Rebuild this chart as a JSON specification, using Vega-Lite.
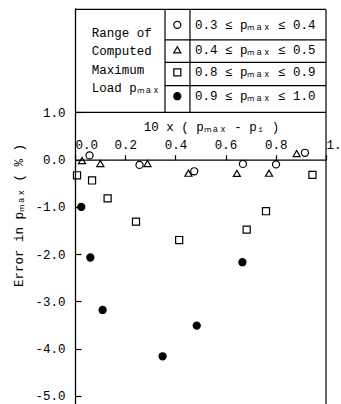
{
  "$schema": "https://vega.github.io/schema/vega-lite/v6.json",
  "width": 251,
  "height": 396,
  "autosize": {"type": "none"},
  "padding": {"left": 75, "top": 8, "right": 15, "bottom": 0},
  "background": "white",
  "config": {
    "font": "Liberation Mono",
    "view": {"stroke": null},
    "axis": {"grid": false, "domainColor": "black", "tickColor": "black", "labelColor": "black", "titleColor": "black", "titleFontWeight": "normal", "domainWidth": 1.3, "tickWidth": 1.2}
  },
  "datasets": {
    "pts": [
      {"x": 0.058, "y": 0.09, "g": "0.3-0.4"},
      {"x": 0.257, "y": -0.11, "g": "0.3-0.4"},
      {"x": 0.475, "y": -0.245, "g": "0.3-0.4"},
      {"x": 0.669, "y": -0.09, "g": "0.3-0.4"},
      {"x": 0.801, "y": -0.1, "g": "0.3-0.4"},
      {"x": 0.916, "y": 0.146, "g": "0.3-0.4"},
      {"x": 0.028, "y": -0.02, "g": "0.4-0.5"},
      {"x": 0.101, "y": -0.08, "g": "0.4-0.5"},
      {"x": 0.289, "y": -0.08, "g": "0.4-0.5"},
      {"x": 0.452, "y": -0.286, "g": "0.4-0.5"},
      {"x": 0.645, "y": -0.29, "g": "0.4-0.5"},
      {"x": 0.773, "y": -0.286, "g": "0.4-0.5"},
      {"x": 0.883, "y": 0.13, "g": "0.4-0.5"},
      {"x": 0.008, "y": -0.33, "g": "0.8-0.9"},
      {"x": 0.068, "y": -0.44, "g": "0.8-0.9"},
      {"x": 0.13, "y": -0.82, "g": "0.8-0.9"},
      {"x": 0.243, "y": -1.31, "g": "0.8-0.9"},
      {"x": 0.415, "y": -1.7, "g": "0.8-0.9"},
      {"x": 0.684, "y": -1.48, "g": "0.8-0.9"},
      {"x": 0.761, "y": -1.09, "g": "0.8-0.9"},
      {"x": 0.946, "y": -0.32, "g": "0.8-0.9"},
      {"x": 0.025, "y": -1.0, "g": "0.9-1.0"},
      {"x": 0.061, "y": -2.07, "g": "0.9-1.0"},
      {"x": 0.11, "y": -3.18, "g": "0.9-1.0"},
      {"x": 0.349, "y": -4.16, "g": "0.9-1.0"},
      {"x": 0.485, "y": -3.51, "g": "0.9-1.0"},
      {"x": 0.667, "y": -2.17, "g": "0.9-1.0"}
    ],
    "legendSymbols": [
      {"x": 0.4076, "y": 2.853, "g": "0.3-0.4"},
      {"x": 0.4076, "y": 2.326, "g": "0.4-0.5"},
      {"x": 0.4076, "y": 1.848, "g": "0.8-0.9"},
      {"x": 0.4076, "y": 1.343, "g": "0.9-1.0"}
    ],
    "legendText": [
      {"x": 0.0665, "y": 2.684, "label": "Range of"},
      {"x": 0.0665, "y": 2.29, "label": "Computed"},
      {"x": 0.0665, "y": 1.89, "label": "Maximum"},
      {"x": 0.0665, "y": 1.52, "label": "Load pₘₐₓ"},
      {"x": 0.478, "y": 2.853, "label": "0.3 ≤ pₘₐₓ ≤ 0.4"},
      {"x": 0.478, "y": 2.326, "label": "0.4 ≤ pₘₐₓ ≤ 0.5"},
      {"x": 0.478, "y": 1.848, "label": "0.8 ≤ pₘₐₓ ≤ 0.9"},
      {"x": 0.478, "y": 1.343, "label": "0.9 ≤ pₘₐₓ ≤ 1.0"}
    ],
    "rules": [
      {"x": 0, "x2": 1, "y": 3.18, "y2": 3.18},
      {"x": 0, "x2": 1, "y": 1.0, "y2": 1.0},
      {"x": 0.3586, "x2": 1, "y": 2.537, "y2": 2.537},
      {"x": 0.3586, "x2": 1, "y": 2.059, "y2": 2.059},
      {"x": 0.3586, "x2": 1, "y": 1.568, "y2": 1.568},
      {"x": 0.3586, "x2": 0.3586, "y": 1.0, "y2": 3.18},
      {"x": 0.458, "x2": 0.458, "y": 1.0, "y2": 3.18},
      {"x": 1, "x2": 1, "y": -5.17, "y2": 3.18}
    ]
  },
  "layer": [
    {
      "data": {"name": "rules"},
      "mark": {"type": "rule", "color": "black", "strokeWidth": 1.2},
      "encoding": {
        "x": {
          "field": "x", "type": "quantitative",
          "scale": {"domain": [0, 1], "nice": false, "zero": false},
          "axis": {
            "orient": "top", "offset": -151.7,
            "values": [0, 0.2, 0.4, 0.6, 0.8, 1.0],
            "format": ".1f",
            "labelAlign": {"expr": "datum.value == 0 || datum.value == 1 ? 'left' : 'center'"},
            "labelFlush": false,
            "labelFontSize": 12.5,
            "tickSize": 5,
            "labelPadding": 3,
            "title": "10 x ( pₘₐₓ - p₁ )",
            "titleFontSize": 12.5,
            "titleX": 136,
            "titleY": -33,
            "titleBaseline": "middle",
            "titleAlign": "center"
          }
        },
        "x2": {"field": "x2"},
        "y": {
          "field": "y", "type": "quantitative",
          "scale": {"domain": [-5.17, 3.21], "nice": false, "zero": false},
          "axis": {
            "orient": "left",
            "values": [1, 0, -1, -2, -3, -4, -5],
            "format": ".1f",
            "labelExpr": "replace(datum.label, '−', '-')",
            "labelFontSize": 12.5,
            "tickSize": -6,
            "labelPadding": 16,
            "title": "Error in pₘₐₓ  ( % )",
            "titleFontSize": 12.5,
            "titleAngle": -90,
            "titleX": -57,
            "titleY": 207,
            "titleBaseline": "middle",
            "titleAlign": "center"
          }
        },
        "y2": {"field": "y2"}
      }
    },
    {
      "data": {"name": "pts"},
      "mark": {"type": "point", "strokeWidth": 1.2, "opacity": 1, "color": "black"},
      "encoding": {
        "x": {"field": "x", "type": "quantitative"},
        "y": {"field": "y", "type": "quantitative"},
        "shape": {"field": "g", "type": "nominal", "legend": null,
          "scale": {"domain": ["0.3-0.4", "0.4-0.5", "0.8-0.9", "0.9-1.0"], "range": ["circle", "triangle-up", "square", "circle"]}},
        "fill": {"field": "g", "type": "nominal", "legend": null,
          "scale": {"domain": ["0.3-0.4", "0.4-0.5", "0.8-0.9", "0.9-1.0"], "range": ["transparent", "transparent", "transparent", "black"]}},
        "size": {"field": "g", "type": "nominal", "legend": null,
          "scale": {"domain": ["0.3-0.4", "0.4-0.5", "0.8-0.9", "0.9-1.0"], "range": [50, 50, 64, 66]}}
      }
    },
    {
      "data": {"name": "legendSymbols"},
      "mark": {"type": "point", "strokeWidth": 1.2, "opacity": 1, "color": "black"},
      "encoding": {
        "x": {"field": "x", "type": "quantitative"},
        "y": {"field": "y", "type": "quantitative"},
        "shape": {"field": "g", "type": "nominal", "legend": null},
        "fill": {"field": "g", "type": "nominal", "legend": null},
        "size": {"field": "g", "type": "nominal", "legend": null}
      }
    },
    {
      "data": {"name": "legendText"},
      "mark": {"type": "text", "align": "left", "baseline": "middle", "fontSize": 12.5, "color": "black"},
      "encoding": {
        "x": {"field": "x", "type": "quantitative"},
        "y": {"field": "y", "type": "quantitative"},
        "text": {"field": "label"}
      }
    }
  ]
}
